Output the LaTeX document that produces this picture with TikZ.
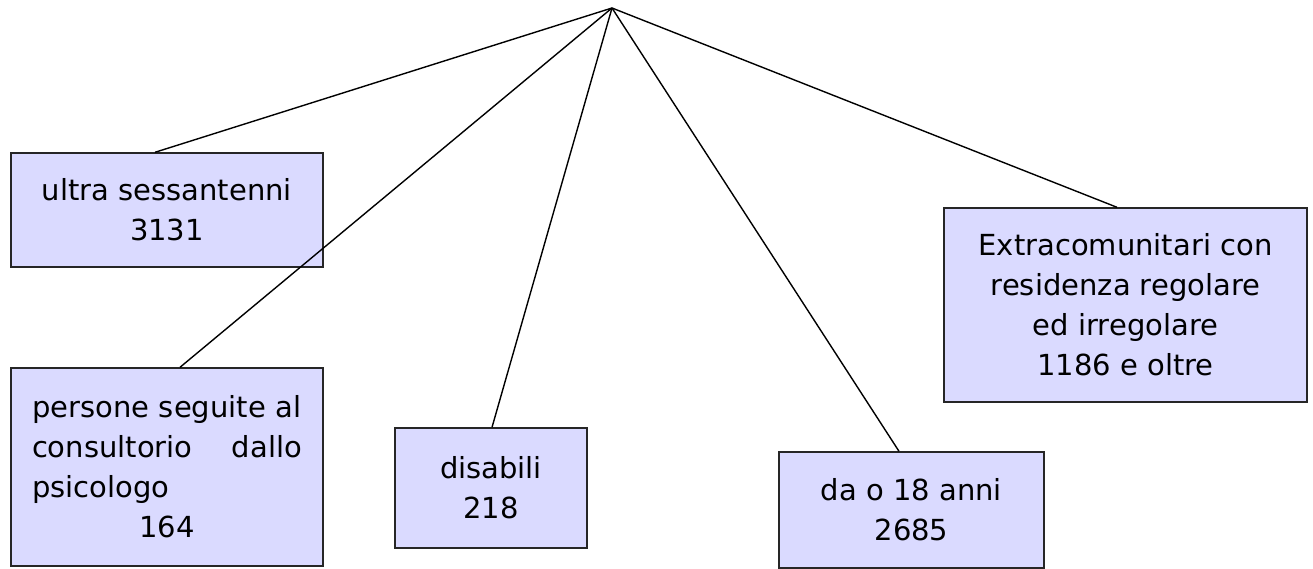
\documentclass[tikz,border=0pt]{standalone}
\usepackage{fontspec}
\setmainfont{DejaVu Sans}
\usetikzlibrary{arrows}
\definecolor{clavender}{RGB}{218,218,255}

\begin{document}
\begin{tikzpicture}[x=1pt,y=-1pt,-,>=stealth',thick,
  box node/.style={rectangle,fill=clavender,draw=black!85,line width=1.4pt,inner sep=0pt,
    font=\fontsize{29}{40}\selectfont,align=center}]
  \useasboundingbox (0,0) rectangle (1313,569);
  \coordinate (top) at (612,8);

  \node[box node,minimum width=312pt,minimum height=114pt] (ultra) at (167,210) {ultra sessantenni\\3131};
  \node[box node,minimum width=312pt,minimum height=198pt,text width=270pt,align=left] (persone) at (167,467)
    {persone seguite al\\consultorio\hfill dallo\\psicologo\\\hfill164\hfill\null};
  \node[box node,minimum width=192pt,minimum height=120pt] (disabili) at (491,488) {disabili\\218};
  \node[box node,minimum width=265pt,minimum height=116pt] (minori) at (911.5,510) {da o 18 anni\\2685};
  \node[box node,minimum width=363pt,minimum height=194pt] (extra) at (1125.5,305)
    {Extracomunitari con\\residenza regolare\\ed irregolare\\1186 e oltre};

  \path[line width=1.4pt]
    (top) edge ([xshift=-12pt]ultra.north)
    (top) edge ([xshift=13pt]persone.north)
    (top) edge ([xshift=1pt]disabili.north)
    (top) edge ([xshift=-12.5pt]minori.north)
    (top) edge ([xshift=-8.5pt]extra.north);
\end{tikzpicture}
\end{document}
